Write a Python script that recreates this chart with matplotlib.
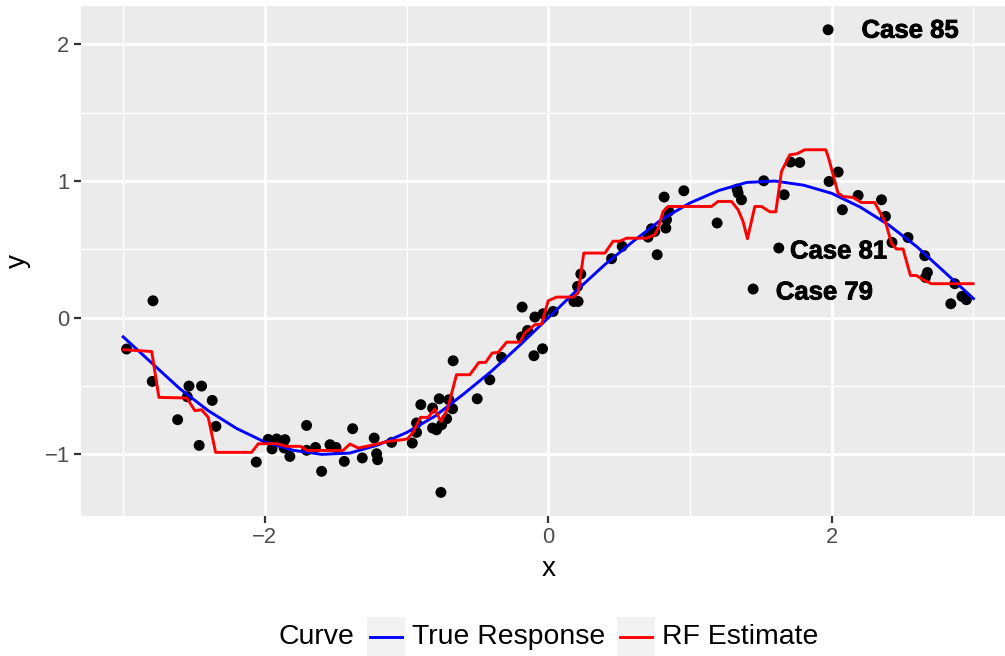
import matplotlib
matplotlib.use('Agg')
import matplotlib.pyplot as plt
from matplotlib.lines import Line2D
from matplotlib.patches import Rectangle
import matplotlib.patheffects as pe

plt.rcParams['font.family'] = ['Liberation Sans', 'DejaVu Sans']

# observed sample
obs_x = [-2.976, -2.79, -2.795, -2.536, -2.447, -2.548, -2.372, -2.616, -2.346, -2.464,
         -2.061, -1.977, -1.917, -1.859, -1.95, -1.864, -1.824, -1.706, -1.706, -1.643,
         -1.60, -1.541, -1.499, -1.44, -1.381, -1.313, -1.229, -1.212, -1.205, -1.106,
         -0.96, -0.93, -0.93, -0.90, -0.817, -0.77, -0.702, -0.676, -0.817, -0.789,
         -0.753, -0.718, -0.758, -0.672, -0.502, -0.413, -0.33, -0.189, -0.147, -0.102,
         -0.041, -0.185, -0.095, -0.037, 0.034, 0.18, 0.21, 0.206, 0.229, 0.446,
         0.521, 0.704, 0.728, 0.751, 0.829, 0.834, 0.85, 0.817, 0.956, 0.768,
         1.191, 1.332, 1.339, 1.363, 1.52, 1.664, 1.709, 1.774, 1.981, 2.045,
         2.075, 2.186, 2.351, 2.379, 2.425, 2.538, 2.656, 2.675, 2.661, 2.868,
         2.84, 2.919, 2.95, 1.626, 1.445, 1.974]
obs_y = [-0.229, 0.124, -0.466, -0.50, -0.50, -0.578, -0.605, -0.746, -0.795, -0.934,
         -1.056, -0.89, -0.887, -0.892, -0.96, -0.953, -1.015, -0.788, -0.97, -0.949,
         -1.124, -0.929, -0.949, -1.051, -0.812, -1.026, -0.88, -0.995, -1.039, -0.912,
         -0.917, -0.839, -0.77, -0.636, -0.661, -0.593, -0.60, -0.666, -0.807, -0.82,
         -0.783, -0.739, -1.278, -0.315, -0.593, -0.454, -0.29, -0.14, -0.093, -0.278,
         -0.227, 0.078, 0.005, 0.029, 0.046, 0.119, 0.119, 0.229, 0.32, 0.432,
         0.522, 0.59, 0.651, 0.631, 0.656, 0.717, 0.778, 0.883, 0.929, 0.461,
         0.693, 0.941, 0.912, 0.863, 1.002, 0.90, 1.139, 1.136, 0.997, 1.066,
         0.79, 0.895, 0.863, 0.741, 0.551, 0.587, 0.454, 0.331, 0.295, 0.249,
         0.102, 0.156, 0.132, 0.51, 0.21, 2.107]

# true response curve
true_x = [-3.0, -2.8, -2.6, -2.4, -2.2, -2.0, -1.8, -1.6, -1.4, -1.2, -1.0,
          -0.8, -0.6, -0.4, -0.2, 0.0, 0.2, 0.4, 0.6, 0.8, 1.0,
          1.2, 1.4, 1.6, 1.8, 2.0, 2.2, 2.4, 2.6, 2.8, 3.0]
true_y = [-0.14, -0.33, -0.52, -0.68, -0.81, -0.91, -0.97, -1.00, -0.99, -0.93, -0.84,
          -0.72, -0.56, -0.39, -0.20, 0.00, 0.20, 0.39, 0.56, 0.72, 0.84,
          0.93, 0.99, 1.00, 0.97, 0.91, 0.81, 0.68, 0.52, 0.33, 0.14]

# random forest fit
rf_x = [-2.995, -2.799, -2.748, -2.552, -2.494, -2.447, -2.400, -2.348, -2.094, -2.047,
        -1.917, -1.847, -1.748, -1.702, -1.448, -1.400, -1.342, -1.283, -1.130, -1.024,
        -0.993, -0.956, -0.902, -0.848, -0.801, -0.758, -0.711, -0.648, -0.554, -0.490,
        -0.443, -0.396, -0.354, -0.295, -0.201, -0.166, -0.095, -0.048, -0.001, 0.058,
        0.175, 0.210, 0.250, 0.399, 0.457, 0.504, 0.552, 0.693, 0.751, 0.775,
        0.810, 0.845, 1.151, 1.198, 1.292, 1.339, 1.374, 1.405, 1.457, 1.504,
        1.563, 1.605, 1.645, 1.704, 1.755, 1.810, 1.958, 1.981, 2.044, 2.080,
        2.150, 2.210, 2.303, 2.381, 2.421, 2.456, 2.503, 2.555, 2.598, 2.644,
        2.703, 2.997]
rf_y = [-0.234, -0.247, -0.583, -0.587, -0.680, -0.673, -0.729, -0.985, -0.985, -0.922,
        -0.922, -0.941, -0.941, -0.971, -0.971, -0.924, -0.953, -0.941, -0.905, -0.892,
        -0.885, -0.841, -0.729, -0.729, -0.668, -0.759, -0.666, -0.417, -0.417, -0.327,
        -0.327, -0.258, -0.254, -0.179, -0.179, -0.112, -0.051, -0.046, 0.124, 0.151,
        0.151, 0.181, 0.473, 0.473, 0.560, 0.560, 0.582, 0.582, 0.607, 0.656,
        0.778, 0.814, 0.814, 0.851, 0.851, 0.790, 0.704, 0.578, 0.814, 0.814,
        0.775, 0.775, 1.070, 1.192, 1.200, 1.229, 1.229, 1.156, 0.912, 0.887,
        0.880, 0.843, 0.843, 0.693, 0.546, 0.503, 0.503, 0.309, 0.309, 0.278,
        0.249, 0.249]

# labelled cases
case_names = ['Case 85', 'Case 81', 'Case 79']
case_x = [2.21, 1.705, 1.605]
case_y = [2.10, 0.485, 0.185]

fig = plt.figure(figsize=(10.05, 6.56), dpi=100)
ax = fig.add_axes([80.7 / 1005, 1 - 515.5 / 656, (1016 - 80.7) / 1005, (515.5 - 5.7) / 656])
ax.set_facecolor('#EBEBEB')

ax.set_xlim(-3.3, 3.3)
ax.set_ylim(-1.447, 2.283)
ax.set_xticks([-2, 0, 2])
ax.set_xticks([-3, -1, 1, 3], minor=True)
ax.set_yticks([-1, 0, 1, 2])
ax.set_yticks([-0.5, 0.5, 1.5], minor=True)
ax.grid(which='major', color='white', linewidth=2.0)
ax.grid(which='minor', color='white', linewidth=1.0)
ax.set_axisbelow(True)
for s in ax.spines.values():
    s.set_visible(False)
ax.tick_params(which='major', length=5, width=1.6, color='#333333',
               labelsize=15.8, labelcolor='#4D4D4D', pad=3)
ax.tick_params(which='minor', length=0)

ax.scatter(obs_x, obs_y, s=62, color='black', edgecolors='none', zorder=2)
ax.plot(true_x, true_y, color='blue', linewidth=2.1, zorder=3)
ax.plot(rf_x, rf_y, color='red', linewidth=2.1, zorder=4)

for name, tx, ty in zip(case_names, case_x, case_y):
    ax.text(tx, ty, name, fontsize=18.5, fontweight='bold', ha='left', va='center',
            color='black', zorder=5,
            path_effects=[pe.withStroke(linewidth=0.6, foreground='black')])

ax.set_xlabel('x', fontsize=20.2, labelpad=6)
ax.set_ylabel('y', fontsize=20.2, labelpad=10)

# legend along the bottom
ly = 1 - 637 / 656
fig.text(279 / 1005, ly, 'Curve', fontsize=20.4, ha='left', va='center')
keys = [('blue', 367, 'True Response', 412), ('red', 617, 'RF Estimate', 662)]
for col, kx, lab, tx in keys:
    fig.patches.append(Rectangle((kx / 1005, 0), 38 / 1005, 39 / 656,
                                 transform=fig.transFigure, facecolor='#F2F2F2',
                                 edgecolor='none'))
    fig.lines.append(Line2D([(kx + 3) / 1005, (kx + 35) / 1005], [ly, ly],
                            transform=fig.transFigure, color=col, linewidth=2.1))
    fig.text(tx / 1005, ly, lab, fontsize=20.4, ha='left', va='center')

fig.savefig('out.png', dpi=100)
